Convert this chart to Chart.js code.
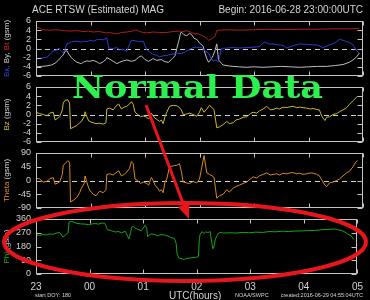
<!DOCTYPE html>
<html>
<head>
<meta charset="utf-8">
<script src="https://cdn.jsdelivr.net/npm/chart.js"></script>
<style>
  html, body { margin: 0; padding: 0; background: #000; }
  #wrap { position: relative; width: 370px; height: 300px; overflow: hidden; background: #000; }
  #wrap canvas { position: absolute; left: 0; top: 0; }
  .txt { position: absolute; color: #d4d4d4; font-family: "Liberation Sans", Arial, sans-serif; white-space: nowrap; line-height: 1; }
  #title { left: 32px; top: 5px; font-size: 10px; }
  #begin { right: 7px; top: 5px; font-size: 10px; }
  #utc { left: 169px; top: 291px; font-size: 10px; }
  #doy { left: 35px; top: 293px; font-size: 5.5px; }
  #noaa { left: 235px; top: 293px; font-size: 5.5px; }
  #created { right: 7px; top: 293px; font-size: 5.5px; }
  #normal { position: absolute; left: 72px; top: 71px; font-family: "DejaVu Serif", serif; font-weight: bold;
            font-size: 32px; line-height: 1; color: #2cf04e; white-space: nowrap; transform-origin: 0 0; }
</style>
</head>
<body>
<div id="wrap">
  <canvas id="p1" width="370" height="300"></canvas>
  <canvas id="p2" width="370" height="300"></canvas>
  <canvas id="p3" width="370" height="300"></canvas>
  <canvas id="p4" width="370" height="300"></canvas>
  <div class="txt" id="title">ACE RTSW (Estimated) MAG</div>
  <div class="txt" id="begin">Begin: 2016-06-28 23:00:00UTC</div>
  <div class="txt" id="doy">start DOY: 180</div>
  <div class="txt" id="utc">UTC(hours)</div>
  <div class="txt" id="noaa">NOAA/SWPC</div>
  <div class="txt" id="created">created:2016-06-29 04:55:04UTC</div>
  <div id="normal">Normal Data</div>
</div>
<script>
// time axis: minutes after 23:00 UTC
const hourLabels = ['23', '00', '01', '02', '03', '04', '05'];

// Bt (red)
const btTime = [0,3,8,15,22,30,37,45,52,58, 63,70,77,81,85,89,94,100,106,110,
  114,118,122,129,136,144,151,158,162,166, 171,175,177,182,186,190,194,197,199,202,
  210,224,240,254,270,290,310,330,345,356];
const bt = [4.6,4.5,4.1,4.0,4.1,3.9,3.8,3.9,3.7,3.8, 3.6,3.7,3.4,3.5,3.3,3.2,3.5,3.6,3.8,4.1,
  3.7,3.5,3.4,3.6,3.5,3.5,3.7,3.8,3.7,3.9, 3.5,3.2,3.3,2.9,2.5,1.8,2.2,2.6,3.9,4.0,
  4.1,4.0,4.1,4.2,4.1,4.2,4.2,4.3,4.3,4.4];

// Bx (blue)
const bxTime = [0,6,12,16,19,23,25,28,30,32, 34,37,39,45,50,52,56,59,63,67,
  70,74,78,80,85,89,92,96,100,102, 105,109,113,118,122,125,129,133,136,140,
  144,151,155,160,164,169,173,177,182,186, 190,193,195,198,201,204,210,217,224,232,
  239,246,250,252,256,261,266,272,276,280, 283,290,298,305,309,314,316,322,327,331,
  334,338,342,345,349,353,356];
const bx = [-2.2,-2.1,-1.9,-1.2,-0.5,-0.3,0.1,-0.6,-1.0,-0.2, 1.0,1.2,1.5,1.6,1.4,1.6,1.5,1.8,1.6,1.9,
  2.0,1.9,2.3,0.1,0.0,0.2,-0.3,-0.2,-0.6,0.5, 1.8,1.7,1.5,1.6,-0.3,-0.8,-1.3,-1.5,-1.8,-1.6,
  -1.5,-1.2,-1.0,-1.1,-0.8,-0.2,0.2,0.3,0.2,-0.5, -1.0,-2.2,-2.7,-2.5,-2.9,0.0,0.1,0.2,0.1,0.2,
  0.3,0.4,1.2,1.4,1.0,1.0,0.8,0.7,0.1,0.4, 0.6,1.0,0.9,0.8,0.8,0.4,0.2,0.7,1.0,1.5,
  2.0,1.8,1.5,1.3,0.8,-0.5,-1.0];

// By (grey)
const byTime = [0,6,12,17,21,25,28,30,32,34, 36,39,41,45,50,52,56,59,63,67,
  70,74,77,78,81,85,89,92,96,100, 105,109,113,116,120,124,129,133,138,142,
  146,150,153,155,157,159,160,163,166,169, 171,174,177,180,184,186,188,190,193,195,
  197,199,201,204,206,212,217,224,232,240, 250,260,270,280,290,300,310,320,330,338,
  345,349,353,356];
const by = [-4.0,-3.9,-3.8,-3.6,-3.2,-2.5,-1.8,-1.4,-0.6,-0.5, -1.2,-2.0,-2.4,-3.0,-3.3,-3.0,-2.7,-2.8,-2.6,-2.9,
  -3.3,-2.9,-2.4,-2.0,-2.3,-2.8,-3.3,-3.0,-2.7,-2.5, -2.8,-2.6,-1.9,-1.6,-2.4,-2.8,-2.2,-2.6,-2.4,-2.9,
  -3.0,-2.2,-1.6,0.0,1.5,3.2,3.6,3.0,2.8,3.3, 3.1,2.2,2.0,1.2,0.5,-1.0,-2.2,-3.0,-2.3,-1.5,
  -0.5,1.0,-2.5,-3.2,-3.6,-3.8,-3.9,-4.0,-4.1,-4.0, -4.1,-4.0,-3.9,-4.0,-4.1,-4.0,-3.9,-3.9,-3.7,-3.5,
  -3.0,-2.5,-1.8,-1.0];

// Bz and Theta share the same sample times
const zTime = [0,4,8,12,15,19,21,24,26,29, 30,32,35,37,38,41,45,48,50,53,
  54,56,58,60,63,66,70,74,77,78, 81,85,88,91,94,97,100,103,105,107,
  109,112,115,118,122,124,127,129,131,134, 136,138,140,142,144,147,151,155,158,160,
  162,166,169,173,177,180,182,185,188,191, 194,196,199,202,206,210,213,217,220,224,
  228,232,236,239,243,246,250,254,258,261, 265,268,272,276,280,283,287,290,294,298,
  302,305,309,312,315,318,320,323,327,331, 334,338,342,345,349,352,354];
const bz = [0.5,0.2,0.0,-0.3,0.3,0.5,-1.2,-0.8,-0.5,1.0, 2.5,3.1,3.2,2.5,-3.1,-2.8,-2.4,-1.8,-1.5,-0.5,
  0.6,-0.5,-1.4,-1.6,-1.8,-2.0,-1.9,-2.1,-1.8,1.2, 1.4,1.0,1.8,2.3,1.2,1.6,1.8,2.3,2.8,2.2,
  0.5,0.0,-0.5,-0.3,-0.6,-1.0,0.3,-0.3,-0.8,-1.2, -1.5,-1.2,-2.0,-0.5,0.5,1.8,2.0,1.9,1.5,1.0,
  0.0,0.1,0.3,0.0,-0.4,0.5,1.5,0.5,1.2,2.0, 1.5,1.0,-2.9,-2.7,-2.2,-1.5,-2.0,-1.8,-1.2,-1.0,
  -0.6,-0.5,0.2,0.5,0.3,0.8,1.2,1.8,1.0,1.1, 1.4,1.2,1.6,1.5,1.7,1.8,1.5,1.6,1.5,1.4,
  1.2,1.3,1.1,1.0,-0.5,-1.3,-0.6,-0.5,0.0,0.2, 0.6,1.0,1.5,2.2,3.0,3.6,4.0];
const theta = [8,5,-5,-3,5,10,-12,-8,-5,20, 50,55,65,60,-70,-65,-55,-40,-25,-10,
  15,-5,-25,-35,-45,-50,-35,-40,-30,20, 22,18,25,32,15,20,28,40,62,55,
  5,0,-10,-5,-10,-15,10,0,-15,-25, -35,-30,-40,-5,5,45,48,50,55,30,
  -5,-8,-10,-3,-8,5,35,82,25,20, 15,10,-58,-50,-45,-30,-38,-25,-20,-15,
  -10,-5,5,12,8,15,20,25,18,20, 22,18,24,22,25,26,22,24,20,22,
  25,24,20,15,0,-15,-20,-8,-5,0, 5,15,25,30,45,60,65];

// Phi (green)
const phiTime = [0,4,8,12,15,19,23,26,28,30, 32,34,36,37,40,45,50,56,59,63,
  67,70,74,77,78,80,85,89,92,96, 100,102,104,106,107,109,111,113,118,120,
  122,124,125,127,129,133,136,140,144,147, 151,155,157,158,160,164,166,169,173,177,
  180,182,183,184,186,188,190,193,195,197, 198,199,201,204,206,210,217,224,232,239,
  246,254,261,268,276,283,290,298,305,312, 320,327,334,338,342,345,349,353,356];
const phi = [255,252,258,256,262,260,268,272,262,242, 248,262,270,340,345,332,328,326,322,328,
  330,326,334,332,320,290,282,275,278,270, 280,255,230,270,305,312,300,295,283,300,
  318,300,245,255,262,258,250,258,255,250, 240,232,200,130,105,98,95,102,105,108,
  110,115,240,260,278,265,275,272,278,200, 165,170,230,265,272,268,270,268,272,270,
  274,272,278,276,280,278,281,282,284,285, 290,292,295,290,285,278,262,250,225];

const AXIS = '#c4c4c4';
const LABEL = '#d4d4d4';

function pts(t, v) {
    return t.map((x, i) => ({ x: x, y: v[i] }));
}

// box around each panel, inward ticks, dashed zero line, coloured axis title
const framePlugin = {
    id: 'frame',
    beforeDatasetsDraw(chart, args, opts) {
        if (!opts.zero) return;
        const { ctx, chartArea: a, scales: { y } } = chart;
        const py = Math.round(y.getPixelForValue(0)) + 0.5;
        ctx.save();
        ctx.strokeStyle = '#d0d0d0';
        ctx.lineWidth = 1;
        ctx.setLineDash([5, 4]);
        ctx.beginPath();
        ctx.moveTo(a.left, py);
        ctx.lineTo(a.right, py);
        ctx.stroke();
        ctx.restore();
    },
    afterDraw(chart, args, opts) {
        const { ctx, chartArea: a, scales: { x, y } } = chart;
        ctx.save();
        ctx.strokeStyle = AXIS;
        ctx.lineWidth = 1;
        const l = Math.round(a.left) + 0.5, r = Math.round(a.right) - 0.5;
        const t = Math.round(a.top) + 0.5, b = Math.round(a.bottom) - 0.5;
        ctx.strokeRect(l, t, r - l, b - t);
        ctx.beginPath();
        y.ticks.forEach(tk => {
            const py = Math.round(y.getPixelForValue(tk.value)) + 0.5;
            ctx.moveTo(l, py); ctx.lineTo(l + 5, py);
            ctx.moveTo(r, py); ctx.lineTo(r - 5, py);
        });
        hourLabels.forEach((h, i) => {
            const px = Math.round(x.getPixelForValue(i * 60)) + 0.5;
            ctx.moveTo(px, t); ctx.lineTo(px, t + 4);
            ctx.moveTo(px, b); ctx.lineTo(px, b - 4);
        });
        ctx.stroke();

        // rotated multi-colour title
        if (opts.title) {
            ctx.font = '8px "Liberation Sans", Arial, sans-serif';
            ctx.textBaseline = 'middle';
            ctx.textAlign = 'left';
            const total = opts.title.reduce((s, p) => s + ctx.measureText(p[0]).width, 0);
            ctx.translate(7, (a.top + a.bottom) / 2);
            ctx.rotate(-Math.PI / 2);
            let cx = -total / 2;
            opts.title.forEach(p => {
                ctx.fillStyle = p[1];
                ctx.fillText(p[0], cx, 0);
                cx += ctx.measureText(p[0]).width;
            });
        }
        ctx.restore();
    }
};

// red ellipse and arrow drawn over the whole figure
const markupPlugin = {
    id: 'markup',
    afterDraw(chart) {
        const ctx = chart.ctx;
        ctx.save();
        ctx.strokeStyle = '#e8161c';
        ctx.fillStyle = '#e8161c';
        ctx.lineWidth = 4;
        ctx.beginPath();
        ctx.ellipse(185, 242, 181, 39, 0, 0, Math.PI * 2);
        ctx.stroke();

        const x0 = 146, y0 = 105, x1 = 189, y1 = 219;
        const ang = Math.atan2(y1 - y0, x1 - x0);
        const hl = 15, hw = 6;
        const bx0 = x1 - hl * Math.cos(ang), by0 = y1 - hl * Math.sin(ang);
        ctx.lineWidth = 3;
        ctx.beginPath();
        ctx.moveTo(x0, y0);
        ctx.lineTo(bx0, by0);
        ctx.stroke();
        ctx.beginPath();
        ctx.moveTo(x1, y1);
        ctx.lineTo(bx0 + hw * Math.sin(ang), by0 - hw * Math.cos(ang));
        ctx.lineTo(bx0 - hw * Math.sin(ang), by0 + hw * Math.cos(ang));
        ctx.closePath();
        ctx.fill();
        ctx.restore();
    }
};

function makePanel(id, cfg) {
    const showX = !!cfg.showX;
    const plugins = [framePlugin];
    if (cfg.markup) plugins.push(markupPlugin);
    return new Chart(document.getElementById(id), {
        type: 'line',
        data: {
            datasets: cfg.series.map(s => ({
                data: pts(s.t, s.v),
                borderColor: s.color,
                borderWidth: 1,
                pointRadius: 0,
                tension: 0,
                fill: false
            }))
        },
        options: {
            responsive: false,
            animation: false,
            devicePixelRatio: 1,
            layout: {
                padding: { left: 0, right: 7, top: cfg.top, bottom: showX ? 0 : 300 - cfg.bottom }
            },
            plugins: {
                legend: { display: false },
                tooltip: { enabled: false },
                frame: { zero: cfg.zero, title: cfg.title }
            },
            scales: {
                x: {
                    type: 'linear',
                    min: 0,
                    max: 360,
                    display: showX,
                    afterFit: s => { if (showX) s.height = 300 - cfg.bottom; },
                    grid: { display: false, drawTicks: false },
                    border: { display: false },
                    ticks: {
                        stepSize: 60,
                        autoSkip: false,
                        maxRotation: 0,
                        padding: 7,
                        color: LABEL,
                        font: { family: '"Liberation Sans", Arial, sans-serif', size: 10 },
                        callback: v => hourLabels[v / 60]
                    }
                },
                y: {
                    min: cfg.min,
                    max: cfg.max,
                    afterFit: s => { s.width = 36; },
                    grid: { display: false, drawTicks: false },
                    border: { display: false },
                    ticks: {
                        stepSize: cfg.step,
                        autoSkip: false,
                        padding: 5,
                        color: LABEL,
                        font: { family: '"Liberation Sans", Arial, sans-serif', size: 9 }
                    }
                }
            }
        },
        plugins: plugins
    });
}

makePanel('p1', {
    top: 21, bottom: 76, min: -6, max: 6, step: 2, zero: true,
    title: [['Bx, ', '#3346e0'], ['By, ', LABEL], ['Bt', '#e02424'], [' (gsm)', LABEL]],
    series: [
        { t: btTime, v: bt, color: '#b01c1c' },
        { t: bxTime, v: bx, color: '#2a3cd4' },
        { t: byTime, v: by, color: '#bdbdbd' }
    ]
});

makePanel('p2', {
    top: 87, bottom: 142, min: -6, max: 6, step: 2, zero: true,
    title: [['Bz', '#d0c030'], [' (gsm)', LABEL]],
    series: [{ t: zTime, v: bz, color: '#cbbb2c' }]
});

makePanel('p3', {
    top: 153, bottom: 208, min: -90, max: 90, step: 45, zero: true,
    title: [['Theta', '#e08a22'], [' (gsm)', LABEL]],
    series: [{ t: zTime, v: theta, color: '#d9891f' }]
});

makePanel('p4', {
    top: 219, bottom: 274, min: 0, max: 360, step: 90, zero: false, showX: true, markup: true,
    title: [['Phi', '#1cb01c'], [' (gsm)', LABEL]],
    series: [{ t: phiTime, v: phi, color: '#18a418' }]
});

// stretch the overlay caption to the width it has in the picture
const normal = document.getElementById('normal');
const w = normal.getBoundingClientRect().width;
normal.style.transform = 'scaleX(' + (251 / w) + ')';
</script>
</body>
</html>
